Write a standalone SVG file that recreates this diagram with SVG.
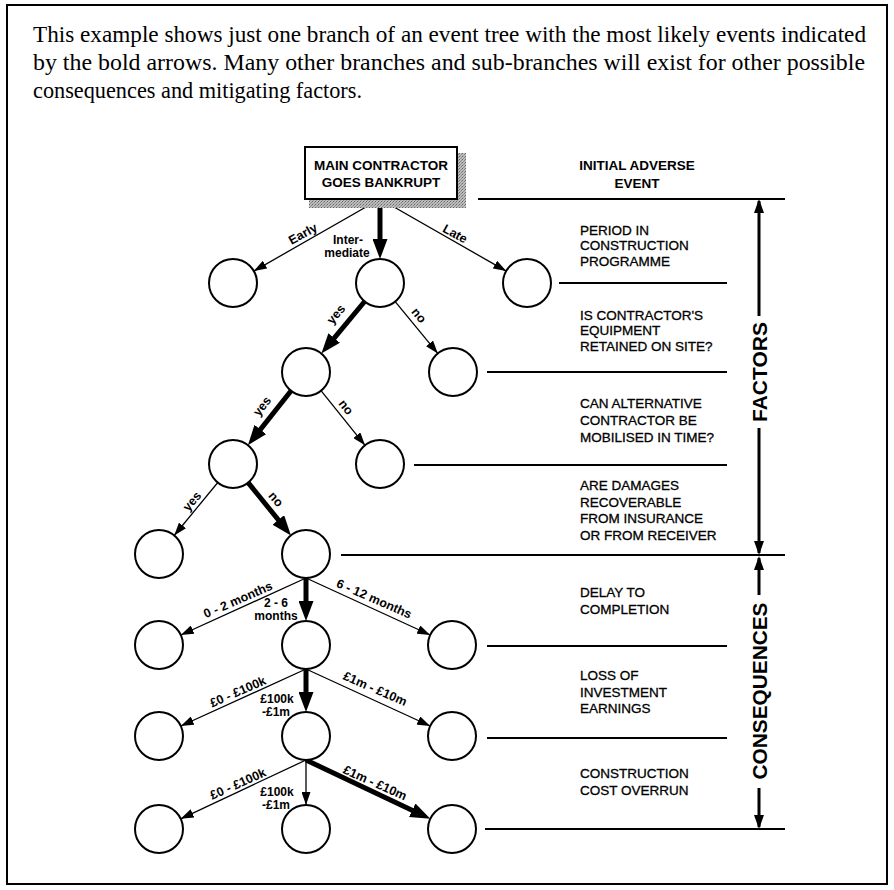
<svg xmlns="http://www.w3.org/2000/svg" width="894" height="890" viewBox="0 0 894 890">
  <defs>
    <marker id="thin-head" markerUnits="userSpaceOnUse" markerWidth="13" markerHeight="9" refX="13" refY="4.5" orient="auto">
      <path d="M0,0 L13,4.5 L0,9 z" fill="#000"/>
    </marker>
    <marker id="bold-head" markerUnits="userSpaceOnUse" markerWidth="20" markerHeight="15" refX="12" refY="7.5" orient="auto">
      <path d="M0,0 L20,7.5 L0,15 z" fill="#000"/>
    </marker>
    <marker id="span-head" markerUnits="userSpaceOnUse" markerWidth="14" markerHeight="10" refX="12" refY="5" orient="auto">
      <path d="M0,0 L14,5 L0,10 z" fill="#000"/>
    </marker>
    <pattern id="stipple" width="3" height="3" patternUnits="userSpaceOnUse">
      <rect width="3" height="3" fill="#bdbdbd"/>
      <rect width="1" height="1" fill="#666"/>
      <rect x="2" y="1" width="1" height="1" fill="#848484"/>
      <rect x="1" y="2" width="1" height="1" fill="#949494"/>
    </pattern>
  </defs>
  <style>
    .frame { fill: #fff; stroke: #000; stroke-width: 2; }
    .intro { font-family: "Liberation Serif", "Times New Roman", serif; font-size: 22.5px; fill: #000; }
    .node { fill: #fff; stroke: #000; stroke-width: 2; }
    .thin { stroke: #000; stroke-width: 1.3; fill: none; marker-end: url(#thin-head); }
    .bold { stroke: #000; stroke-width: 5; fill: none; marker-end: url(#bold-head); }
    .rule { stroke: #000; stroke-width: 2; }
    .span { stroke: #000; stroke-width: 3; marker-end: url(#span-head); }
    .lbl { font-family: "Liberation Sans", Arial, sans-serif; font-size: 12.5px; font-weight: bold; fill: #000; text-anchor: middle; }
    .stack { font-family: "Liberation Sans", Arial, sans-serif; font-size: 12px; font-weight: bold; fill: #000; text-anchor: middle; }
    .head { font-family: "Liberation Sans", Arial, sans-serif; font-size: 13.5px; font-weight: bold; fill: #000; text-anchor: middle; }
    .row { font-family: "Liberation Sans", Arial, sans-serif; font-size: 13.5px; fill: #000; stroke: #000; stroke-width: 0.3; }
    .side { font-family: "Liberation Sans", Arial, sans-serif; font-size: 21px; font-weight: bold; fill: #000; text-anchor: middle; }
  </style>

  <!-- outer frame -->
  <rect class="frame" x="7" y="5" width="880" height="879"/>

  <!-- introductory paragraph -->
  <g id="intro">
    <text class="intro" x="33" y="42" textLength="833" lengthAdjust="spacingAndGlyphs">This example shows just one branch of an event tree with the most likely events indicated</text>
    <text class="intro" x="33" y="70" textLength="832" lengthAdjust="spacingAndGlyphs">by the bold arrows. Many other branches and sub-branches will exist for other possible</text>
    <text class="intro" x="33" y="98" textLength="329" lengthAdjust="spacingAndGlyphs">consequences and mitigating factors.</text>
  </g>

  <!-- level separators and row captions -->
  <g id="rows">
    <line class="rule" x1="478" y1="199" x2="785" y2="199"/>
    <line class="rule" x1="559" y1="283" x2="727" y2="283"/>
    <line class="rule" x1="487" y1="372" x2="727" y2="372"/>
    <line class="rule" x1="414" y1="465" x2="727" y2="465"/>
    <line class="rule" x1="341" y1="555" x2="785" y2="555"/>
    <line class="rule" x1="487" y1="646" x2="727" y2="646"/>
    <line class="rule" x1="487" y1="738" x2="727" y2="738"/>
    <line class="rule" x1="485" y1="829" x2="785" y2="829"/>

    <text class="head" x="637" y="170">INITIAL ADVERSE</text>
    <text class="head" x="637" y="188">EVENT</text>

    <text class="row" x="580" y="235">PERIOD IN</text>
    <text class="row" x="580" y="250">CONSTRUCTION</text>
    <text class="row" x="580" y="266">PROGRAMME</text>

    <text class="row" x="580" y="320">IS CONTRACTOR'S</text>
    <text class="row" x="580" y="335">EQUIPMENT</text>
    <text class="row" x="580" y="351">RETAINED ON SITE?</text>

    <text class="row" x="580" y="408">CAN ALTERNATIVE</text>
    <text class="row" x="580" y="425">CONTRACTOR BE</text>
    <text class="row" x="580" y="442">MOBILISED IN TIME?</text>

    <text class="row" x="580" y="490">ARE DAMAGES</text>
    <text class="row" x="580" y="507">RECOVERABLE</text>
    <text class="row" x="580" y="523">FROM INSURANCE</text>
    <text class="row" x="580" y="540">OR FROM RECEIVER</text>

    <text class="row" x="580" y="597">DELAY TO</text>
    <text class="row" x="580" y="614">COMPLETION</text>

    <text class="row" x="580" y="680">LOSS OF</text>
    <text class="row" x="580" y="697">INVESTMENT</text>
    <text class="row" x="580" y="713">EARNINGS</text>

    <text class="row" x="580" y="778">CONSTRUCTION</text>
    <text class="row" x="580" y="795">COST OVERRUN</text>
  </g>

  <!-- side spans: factors and consequences -->
  <g id="spans">
    <line class="span" x1="759" y1="316" x2="759" y2="201"/>
    <line class="span" x1="759" y1="428" x2="759" y2="553"/>
    <text class="side" transform="translate(767,372) rotate(-90)" x="0" y="0">FACTORS</text>

    <line class="span" x1="759" y1="595" x2="759" y2="558"/>
    <line class="span" x1="759" y1="788" x2="759" y2="827"/>
    <text class="side" transform="translate(767,691) rotate(-90)" x="0" y="0" textLength="177" lengthAdjust="spacingAndGlyphs">CONSEQUENCES</text>
  </g>

  <!-- branches -->
  <g id="connectors">
    <line class="thin" x1="380" y1="199" x2="253.8" y2="271.1"/>
    <line class="bold" x1="380" y1="199" x2="380" y2="251"/>
    <line class="thin" x1="380" y1="199" x2="506.2" y2="271.1"/>

    <line class="bold" x1="364.6" y1="301.5" x2="326.5" y2="347.3"/>
    <line class="thin" x1="395.2" y1="301.6" x2="437.8" y2="353.4"/>

    <line class="bold" x1="291.1" y1="390.8" x2="252.9" y2="438.9"/>
    <line class="thin" x1="321.0" y1="390.7" x2="365.0" y2="445.3"/>

    <line class="thin" x1="217.8" y1="482.5" x2="174.2" y2="535.5"/>
    <line class="bold" x1="248.1" y1="482.6" x2="285.9" y2="529.2"/>

    <line class="thin" x1="306" y1="578" x2="180.8" y2="635"/>
    <line class="bold" x1="306" y1="578" x2="306" y2="613"/>
    <line class="thin" x1="306" y1="578" x2="430.2" y2="635"/>

    <line class="thin" x1="306" y1="669" x2="180.8" y2="726"/>
    <line class="bold" x1="306" y1="669" x2="306" y2="704"/>
    <line class="thin" x1="306" y1="669" x2="430.2" y2="726"/>

    <line class="thin" x1="306" y1="760" x2="180.7" y2="818.8"/>
    <line class="thin" x1="306" y1="760" x2="306" y2="805"/>
    <line class="bold" x1="306" y1="760" x2="423.1" y2="815.4"/>

    <!-- branch labels -->
    <text class="lbl" transform="translate(303,234) rotate(-29)" y="4">Early</text>
    <text class="stack" x="348" y="244">Inter-</text>
    <text class="stack" x="347" y="257">mediate</text>
    <text class="lbl" transform="translate(455,234) rotate(29)" y="4">Late</text>

    <text class="lbl" transform="translate(337,315) rotate(-50)" y="3">yes</text>
    <text class="lbl" transform="translate(418,316) rotate(51)" y="3">no</text>
    <text class="lbl" transform="translate(263,407) rotate(-52)" y="3">yes</text>
    <text class="lbl" transform="translate(345,408) rotate(52)" y="3">no</text>
    <text class="lbl" transform="translate(193,502) rotate(-50)" y="3">yes</text>
    <text class="lbl" transform="translate(275,500) rotate(50)" y="3">no</text>

    <text class="lbl" transform="translate(238,600) rotate(-23.5)" y="4">0 - 2 months</text>
    <text class="stack" x="276" y="607">2 - 6</text>
    <text class="stack" x="276" y="620">months</text>
    <text class="lbl" transform="translate(374,599) rotate(23.5)" y="4">6 - 12 months</text>

    <text class="lbl" transform="translate(238,692) rotate(-23.5)" y="4">£0 - £100k</text>
    <text class="stack" x="277" y="703">£100k</text>
    <text class="stack" x="276" y="716">-£1m</text>
    <text class="lbl" transform="translate(375,689) rotate(23.5)" y="4">£1m - £10m</text>

    <text class="lbl" transform="translate(238,784) rotate(-24)" y="4">£0 - £100k</text>
    <text class="stack" x="277" y="796">£100k</text>
    <text class="stack" x="276" y="809">-£1m</text>
    <text class="lbl" transform="translate(375,783) rotate(24)" y="4">£1m - £10m</text>
  </g>

  <!-- root event -->
  <g id="n-root">
    <rect x="309" y="153" width="157" height="55" fill="url(#stipple)"/>
    <rect x="305" y="147" width="152" height="52" fill="#fff" stroke="#000" stroke-width="2"/>
    <text class="head" x="381" y="170">MAIN CONTRACTOR</text>
    <text class="head" x="381" y="187">GOES BANKRUPT</text>
  </g>

  <!-- event nodes -->
  <g id="n-early"><circle class="node" cx="233" cy="283" r="24"/></g>
  <g id="n-intermediate"><circle class="node" cx="380" cy="283" r="24"/></g>
  <g id="n-late"><circle class="node" cx="527" cy="283" r="24"/></g>

  <g id="n-equip-yes"><circle class="node" cx="306" cy="372" r="24"/></g>
  <g id="n-equip-no"><circle class="node" cx="453" cy="372" r="24"/></g>

  <g id="n-alt-yes"><circle class="node" cx="233" cy="464" r="24"/></g>
  <g id="n-alt-no"><circle class="node" cx="380" cy="464" r="24"/></g>

  <g id="n-recover-yes"><circle class="node" cx="159" cy="554" r="24"/></g>
  <g id="n-recover-no"><circle class="node" cx="306" cy="554" r="24"/></g>

  <g id="n-delay-short"><circle class="node" cx="159" cy="645" r="24"/></g>
  <g id="n-delay-mid"><circle class="node" cx="306" cy="645" r="24"/></g>
  <g id="n-delay-long"><circle class="node" cx="452" cy="645" r="24"/></g>

  <g id="n-loss-low"><circle class="node" cx="159" cy="736" r="24"/></g>
  <g id="n-loss-mid"><circle class="node" cx="306" cy="736" r="24"/></g>
  <g id="n-loss-high"><circle class="node" cx="452" cy="736" r="24"/></g>

  <g id="n-cost-low"><circle class="node" cx="159" cy="829" r="24"/></g>
  <g id="n-cost-mid"><circle class="node" cx="306" cy="829" r="24"/></g>
  <g id="n-cost-high"><circle class="node" cx="452" cy="829" r="24"/></g>
</svg>
